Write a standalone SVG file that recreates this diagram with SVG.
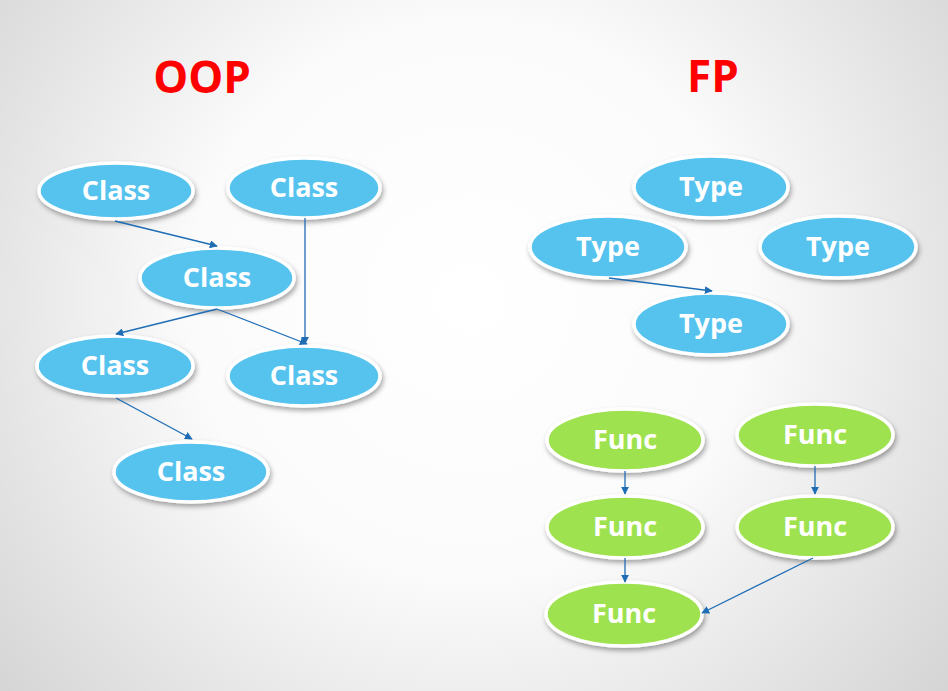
<svg xmlns="http://www.w3.org/2000/svg" width="948" height="691" viewBox="0 0 948 691">
<defs>
<radialGradient id="bg" cx="470" cy="300" r="620" gradientUnits="userSpaceOnUse">
<stop offset="0" stop-color="#ffffff"/>
<stop offset="0.45" stop-color="#fbfbfb"/>
<stop offset="1" stop-color="#d4d4d4"/>
</radialGradient>
<filter id="sh" x="-20%" y="-30%" width="140%" height="170%">
<feDropShadow dx="1.5" dy="3" stdDeviation="2.5" flood-color="#000" flood-opacity="0.35"/>
</filter>
<marker id="ah" viewBox="0 0 10 10" refX="9" refY="5" markerWidth="8" markerHeight="8" markerUnits="userSpaceOnUse" orient="auto">
<path d="M0,0 L10,5 L0,10 z" fill="#1f6db5"/>
</marker>
</defs>
<style>
.blue{fill:#56c3ef;stroke:#fff;stroke-width:3.5;filter:url(#sh)}
.green{fill:#9fe24f;stroke:#fff;stroke-width:3.5;filter:url(#sh)}
.lbl{font-family:"Open Sans","Noto Sans",sans-serif;font-weight:700;font-size:27px;fill:#fff;text-anchor:middle}
.title{font-family:"Open Sans","Noto Sans",sans-serif;font-weight:700;font-size:44px;fill:#ff0000;text-anchor:middle}
.edge{stroke:#1f6db5;stroke-width:1.3;fill:none;marker-end:url(#ah)}
</style>
<rect width="948" height="691" fill="url(#bg)"/>
<text class="title" x="202" y="93">OOP</text>
<text class="title" x="713" y="92">FP</text>

<g id="class1"><ellipse class="blue" cx="116" cy="191" rx="77" ry="28"/><text class="lbl" x="116" y="200">Class</text></g>
<g id="class2"><ellipse class="blue" cx="304" cy="188" rx="76" ry="30"/><text class="lbl" x="304" y="197">Class</text></g>
<g id="class3"><ellipse class="blue" cx="217" cy="278" rx="77" ry="30"/><text class="lbl" x="217" y="287">Class</text></g>
<g id="class4"><ellipse class="blue" cx="115" cy="366" rx="78" ry="30"/><text class="lbl" x="115" y="375">Class</text></g>
<g id="class5"><ellipse class="blue" cx="304" cy="376" rx="76" ry="30"/><text class="lbl" x="304" y="385">Class</text></g>
<g id="class6"><ellipse class="blue" cx="191" cy="472" rx="77" ry="30"/><text class="lbl" x="191" y="481">Class</text></g>

<g id="type1"><ellipse class="blue" cx="711" cy="187" rx="77" ry="31"/><text class="lbl" x="711" y="196">Type</text></g>
<g id="type2"><ellipse class="blue" cx="608" cy="247" rx="78" ry="31"/><text class="lbl" x="608" y="256">Type</text></g>
<g id="type3"><ellipse class="blue" cx="838" cy="247" rx="78" ry="31"/><text class="lbl" x="838" y="256">Type</text></g>
<g id="type4"><ellipse class="blue" cx="711" cy="324" rx="77" ry="31"/><text class="lbl" x="711" y="333">Type</text></g>

<g id="func1"><ellipse class="green" cx="625" cy="440" rx="78" ry="31"/><text class="lbl" x="625" y="449">Func</text></g>
<g id="func2"><ellipse class="green" cx="815" cy="435" rx="78" ry="31"/><text class="lbl" x="815" y="444">Func</text></g>
<g id="func3"><ellipse class="green" cx="625" cy="527" rx="78" ry="31"/><text class="lbl" x="625" y="536">Func</text></g>
<g id="func4"><ellipse class="green" cx="815" cy="527" rx="78" ry="31"/><text class="lbl" x="815" y="536">Func</text></g>
<g id="func5"><ellipse class="green" cx="624" cy="614" rx="78" ry="32"/><text class="lbl" x="624" y="623">Func</text></g>

<g id="connectors">
<line class="edge" x1="115" y1="221" x2="217" y2="246"/>
<line class="edge" x1="305" y1="218" x2="305" y2="344"/>
<line class="edge" x1="217" y1="309" x2="116" y2="334"/>
<line class="edge" x1="217" y1="309" x2="307" y2="344"/>
<line class="edge" x1="116" y1="398" x2="192" y2="439"/>
<line class="edge" x1="609" y1="278" x2="712" y2="291"/>
<line class="edge" x1="625" y1="471" x2="625" y2="494"/>
<line class="edge" x1="815" y1="466" x2="815" y2="494"/>
<line class="edge" x1="625" y1="558" x2="625" y2="582"/>
<line class="edge" x1="813" y1="558" x2="702" y2="613"/>
</g>
</svg>
